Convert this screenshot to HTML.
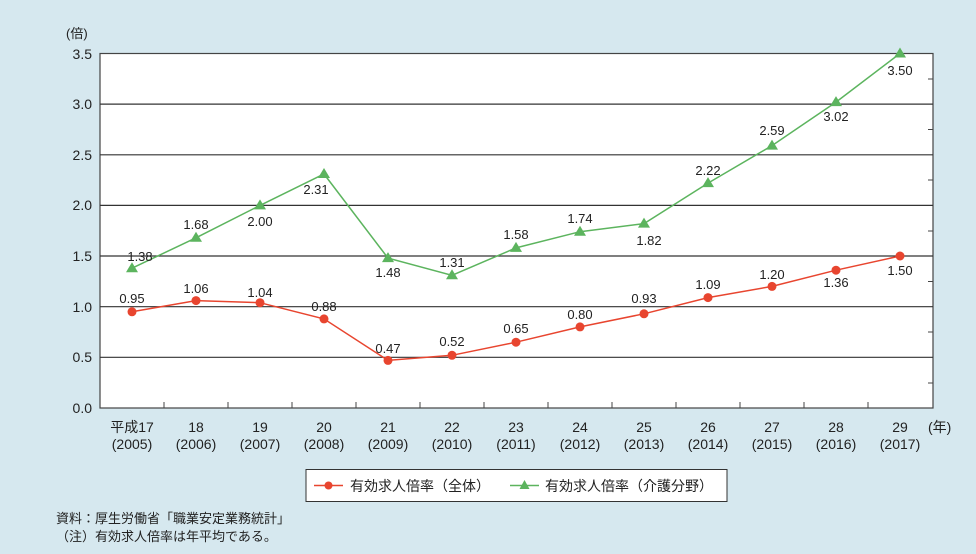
<!DOCTYPE html>
<html><head><meta charset="utf-8"><style>
body{margin:0;background:#d6e8ef;}
svg{display:block;font-family:"Liberation Sans","Noto Sans CJK JP",sans-serif;}
</style></head><body>
<svg width="976" height="554" viewBox="0 0 976 554" xmlns="http://www.w3.org/2000/svg">
<rect width="976" height="554" fill="#d6e8ef"/>
<rect x="100" y="53.5" width="833" height="354.5" fill="#fff" stroke="#444" stroke-width="1.2"/>
<g stroke="#333" stroke-width="1.2">
<line x1="100" y1="104.1" x2="933" y2="104.1"/>
<line x1="100" y1="154.8" x2="933" y2="154.8"/>
<line x1="100" y1="205.4" x2="933" y2="205.4"/>
<line x1="100" y1="256" x2="933" y2="256"/>
<line x1="100" y1="306.7" x2="933" y2="306.7"/>
<line x1="100" y1="357.3" x2="933" y2="357.3"/>
</g>
<g stroke="#444" stroke-width="1">
<line x1="164" y1="408" x2="164" y2="402"/><line x1="228" y1="408" x2="228" y2="402"/><line x1="292" y1="408" x2="292" y2="402"/><line x1="356" y1="408" x2="356" y2="402"/><line x1="420" y1="408" x2="420" y2="402"/><line x1="484" y1="408" x2="484" y2="402"/><line x1="548" y1="408" x2="548" y2="402"/><line x1="612" y1="408" x2="612" y2="402"/><line x1="676" y1="408" x2="676" y2="402"/><line x1="740" y1="408" x2="740" y2="402"/><line x1="804" y1="408" x2="804" y2="402"/><line x1="868" y1="408" x2="868" y2="402"/>
<line x1="933" y1="79" x2="928" y2="79"/><line x1="933" y1="129.5" x2="928" y2="129.5"/><line x1="933" y1="180" x2="928" y2="180"/><line x1="933" y1="231" x2="928" y2="231"/><line x1="933" y1="281.5" x2="928" y2="281.5"/><line x1="933" y1="332" x2="928" y2="332"/><line x1="933" y1="383" x2="928" y2="383"/>
</g>
<g font-size="14" fill="#222" text-anchor="end">
<text x="92" y="59">3.5</text><text x="92" y="109">3.0</text><text x="92" y="160">2.5</text><text x="92" y="210">2.0</text><text x="92" y="261">1.5</text><text x="92" y="312">1.0</text><text x="92" y="362">0.5</text><text x="92" y="413">0.0</text>
</g>
<text x="66" y="38" font-size="13" fill="#222">(倍)</text>
<g font-size="14" fill="#222" text-anchor="middle">
<text x="132" y="432">平成17</text><text x="196" y="432">18</text><text x="260" y="432">19</text><text x="324" y="432">20</text><text x="388" y="432">21</text><text x="452" y="432">22</text><text x="516" y="432">23</text><text x="580" y="432">24</text><text x="644" y="432">25</text><text x="708" y="432">26</text><text x="772" y="432">27</text><text x="836" y="432">28</text><text x="900" y="432">29</text>
<text x="132" y="449">(2005)</text><text x="196" y="449">(2006)</text><text x="260" y="449">(2007)</text><text x="324" y="449">(2008)</text><text x="388" y="449">(2009)</text><text x="452" y="449">(2010)</text><text x="516" y="449">(2011)</text><text x="580" y="449">(2012)</text><text x="644" y="449">(2013)</text><text x="708" y="449">(2014)</text><text x="772" y="449">(2015)</text><text x="836" y="449">(2016)</text><text x="900" y="449">(2017)</text>
</g>
<text x="928" y="432" font-size="14" fill="#222">(年)</text>
<polyline fill="none" stroke="#5cb45e" stroke-width="1.5" points="132,268.2 196,237.8 260,205.4 324,174 388,258.1 452,275.3 516,247.9 580,231.7 644,223.6 708,183.1 772,145.6 836,102.1 900,53.5"/>
<g fill="#5cb45e">
<path d="M132,262.2l6,10h-12z"/><path d="M196,231.8l6,10h-12z"/><path d="M260,199.4l6,10h-12z"/><path d="M324,168l6,10h-12z"/><path d="M388,252.1l6,10h-12z"/><path d="M452,269.3l6,10h-12z"/><path d="M516,241.9l6,10h-12z"/><path d="M580,225.7l6,10h-12z"/><path d="M644,217.6l6,10h-12z"/><path d="M708,177.1l6,10h-12z"/><path d="M772,139.6l6,10h-12z"/><path d="M836,96.1l6,10h-12z"/><path d="M900,47.5l6,10h-12z"/>
</g>
<polyline fill="none" stroke="#e8452f" stroke-width="1.5" points="132,311.8 196,300.6 260,302.7 324,318.9 388,360.4 452,355.3 516,342.2 580,326.9 644,313.8 708,297.6 772,286.4 836,270.2 900,256"/>
<g fill="#e8452f">
<circle cx="132" cy="311.8" r="4.5"/><circle cx="196" cy="300.6" r="4.5"/><circle cx="260" cy="302.7" r="4.5"/><circle cx="324" cy="318.9" r="4.5"/><circle cx="388" cy="360.4" r="4.5"/><circle cx="452" cy="355.3" r="4.5"/><circle cx="516" cy="342.2" r="4.5"/><circle cx="580" cy="326.9" r="4.5"/><circle cx="644" cy="313.8" r="4.5"/><circle cx="708" cy="297.6" r="4.5"/><circle cx="772" cy="286.4" r="4.5"/><circle cx="836" cy="270.2" r="4.5"/><circle cx="900" cy="256" r="4.5"/>
</g>
<g font-size="13" fill="#222" text-anchor="middle">
<text x="140" y="261">1.38</text><text x="196" y="229">1.68</text><text x="260" y="226">2.00</text><text x="316" y="194">2.31</text><text x="388" y="277">1.48</text><text x="452" y="267">1.31</text><text x="516" y="239">1.58</text><text x="580" y="223">1.74</text><text x="649" y="245">1.82</text><text x="708" y="175">2.22</text><text x="772" y="135">2.59</text><text x="836" y="121">3.02</text><text x="900" y="75">3.50</text>
<text x="132" y="303">0.95</text><text x="196" y="293">1.06</text><text x="260" y="297">1.04</text><text x="324" y="311">0.88</text><text x="388" y="353">0.47</text><text x="452" y="346">0.52</text><text x="516" y="333">0.65</text><text x="580" y="319">0.80</text><text x="644" y="303">0.93</text><text x="708" y="289">1.09</text><text x="772" y="279">1.20</text><text x="836" y="287">1.36</text><text x="900" y="275">1.50</text>
</g>
<rect x="306" y="469.5" width="421" height="32" fill="#fff" stroke="#333" stroke-width="1"/>
<line x1="314" y1="485.5" x2="343" y2="485.5" stroke="#e8452f" stroke-width="1.5"/>
<circle cx="328.5" cy="485.5" r="4" fill="#e8452f"/>
<text x="350" y="491" font-size="14" fill="#222">有効求人倍率（全体）</text>
<line x1="510" y1="485.5" x2="539" y2="485.5" stroke="#5cb45e" stroke-width="1.5"/>
<path d="M524.5,480l5,9h-10z" fill="#5cb45e"/>
<text x="545" y="491" font-size="14" fill="#222">有効求人倍率（介護分野）</text>
<text x="56" y="523" font-size="13" fill="#222">資料：厚生労働省「職業安定業務統計」</text>
<text x="56" y="541" font-size="13" fill="#222">（注）有効求人倍率は年平均である。</text>
</svg>
</body></html>
